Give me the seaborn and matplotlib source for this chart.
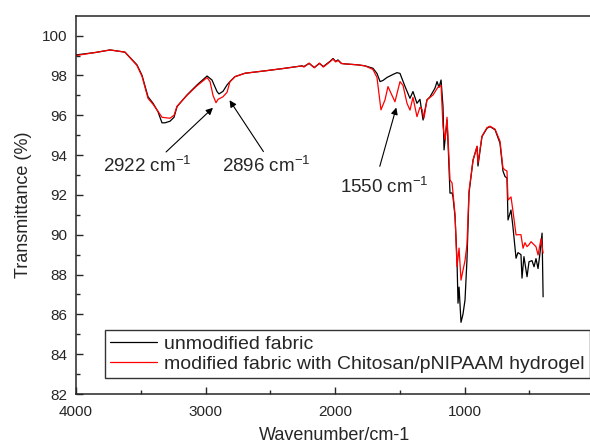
import pandas as pd
import seaborn as sns
import matplotlib.pyplot as plt

# FTIR spectra
wn_unmod = [4000, 3853, 3737, 3622, 3529, 3490, 3444, 3405, 3367, 3336, 3313, 3274, 3243, 3220,
            3143, 3066, 2988, 2950, 2911, 2896, 2865, 2834, 2811, 2772, 2695, 2541, 2386, 2255,
            2240, 2200, 2160, 2120, 2090, 2040, 2015, 1995, 1977, 1950, 1923, 1822, 1768, 1707,
            1676, 1652, 1629, 1598, 1552, 1521, 1498, 1459, 1421, 1398, 1367, 1344, 1320, 1290,
            1266, 1228, 1212, 1197, 1181, 1166, 1158, 1135, 1127, 1112, 1096, 1089, 1073, 1058,
            1050, 1042, 1027, 1012, 996, 981, 965, 934, 903, 896, 865, 826, 803, 764, 726, 703,
            687, 672, 664, 641, 626, 602, 587, 564, 556, 541, 517, 502, 479, 463, 448, 432, 417,
            401, 393]
t_unmod = [99.03, 99.15, 99.28, 99.17, 98.53, 98.0, 96.93, 96.6, 96.18, 95.62, 95.62, 95.7, 95.9, 96.43,
           97.02, 97.52, 97.97, 97.77, 97.19, 97.07, 97.2, 97.52, 97.69, 97.94, 98.11, 98.23, 98.36, 98.48,
           98.45, 98.6, 98.4, 98.6, 98.45, 98.7, 98.85, 98.7, 98.78, 98.6, 98.58, 98.53, 98.48, 98.36,
           98.1, 97.69, 97.75, 97.9, 98.05, 98.14, 98.1, 97.44, 96.85, 97.19, 96.6, 96.8, 95.76, 96.77,
           96.93, 97.36, 97.69, 97.4, 97.77, 96.43, 94.26, 95.76, 94.6, 92.09, 92.1, 91.91, 90.9, 88.73,
           86.56, 87.37, 85.6, 86.0, 86.72, 88.73, 92.1, 93.75, 94.42, 93.45, 94.93, 95.35, 95.43, 95.27, 94.6, 93.2,
           92.92, 92.85, 90.74, 91.24, 90.4, 88.82, 89.1, 89.0, 87.82, 88.9, 87.89, 88.64, 88.7, 88.39, 88.8, 88.3, 89.08,
           90.08, 86.88]

wn_mod = [4000, 3853, 3737, 3622, 3529, 3490, 3444, 3405, 3367, 3336, 3313, 3274, 3243, 3220,
          3143, 3066, 2988, 2965, 2942, 2919, 2903, 2888, 2865, 2834, 2811, 2772, 2695, 2541, 2386,
          2255, 2240, 2200, 2160, 2120, 2090, 2040, 2015, 1995, 1977, 1950, 1923, 1822, 1768, 1707,
          1676, 1645, 1614, 1591, 1560, 1537, 1498, 1475, 1444, 1421, 1398, 1367, 1344, 1328, 1313,
          1290, 1243, 1205, 1181, 1166, 1150, 1135, 1112, 1096, 1073, 1058, 1042, 1027, 1012, 996,
          981, 965, 934, 903, 896, 865, 826, 803, 764, 726, 703, 687, 672, 664, 641, 626, 602, 587,
          564, 548, 533, 517, 502, 486, 471, 448, 432, 409, 393]
t_mod = [99.0, 99.15, 99.28, 99.17, 98.5, 97.95, 96.85, 96.55, 96.2, 95.9, 95.88, 95.85, 96.0, 96.45,
         97.0, 97.48, 97.89, 97.69, 97.0, 96.63, 96.8, 96.85, 96.93, 97.15, 97.69, 97.94, 98.11, 98.23, 98.36,
         98.48, 98.42, 98.62, 98.38, 98.62, 98.42, 98.68, 98.82, 98.68, 98.75, 98.6, 98.58, 98.53, 98.48, 98.3,
         97.9, 96.27, 96.77, 97.44, 97.0, 96.68, 97.69, 97.5, 96.6, 96.26, 96.9, 95.93, 96.4, 96.3, 95.86,
         96.77, 97.02, 97.41, 97.5, 95.43, 94.76, 95.9, 92.75, 92.6, 91.0, 88.4, 89.33, 87.72, 88.2, 88.7,
         89.5, 92.2, 93.75, 94.45, 93.6, 94.95, 95.38, 95.45, 95.3, 94.7, 93.35, 93.25, 93.2, 91.74, 91.9, 91.2, 89.99, 90.0,
         90.0, 89.32, 89.6, 89.4, 89.5, 89.65, 89.55, 89.4, 88.98, 89.8, 89.08]

labels = ['unmodified fabric', 'modified fabric with Chitosan/pNIPAAM hydrogel']

df = pd.concat([
    pd.DataFrame({'wn': wn_unmod, 't': t_unmod, 'sample': labels[0]}),
    pd.DataFrame({'wn': wn_mod, 't': t_mod, 'sample': labels[1]}),
])

sns.set_style('ticks')
plt.rcParams['font.family'] = ['Liberation Sans', 'DejaVu Sans']
plt.rcParams['mathtext.default'] = 'regular'
plt.rcParams['xtick.direction'] = 'in'
plt.rcParams['ytick.direction'] = 'in'

fig = plt.figure(figsize=(5.9, 4.47), dpi=100)
ax = fig.add_axes([76 / 590, 53 / 447, 518 / 590, 378.3 / 447])

sns.lineplot(data=df, x='wn', y='t', hue='sample', palette=['black', 'red'],
             sort=False, estimator=None, linewidth=0.9, ax=ax)

ax.set_xlim(4000, 0)
ax.set_ylim(82, 101)
ax.set_xticks([4000, 3000, 2000, 1000])
ax.set_xticks([3500, 2500, 1500, 500], minor=True)
ax.set_yticks(range(82, 101, 2))
ax.set_yticks(range(83, 101, 2), minor=True)
ax.tick_params(which='major', length=5, width=1, labelsize=11, top=False, right=False)
ax.tick_params(axis='x', which='major', pad=8)
ax.tick_params(axis='y', which='major', pad=6)
ax.tick_params(which='minor', length=3, width=1, top=False, right=False)
for s in ['left', 'bottom', 'top']:
    ax.spines[s].set_linewidth(1.1)
ax.spines['right'].set_visible(False)

ax.set_xlabel('Wavenumber/cm-1', fontsize=13, labelpad=6)
ax.set_ylabel('Transmittance (%)', fontsize=13, labelpad=7)

arrow = dict(arrowstyle='-|>', color='black', lw=0.8, mutation_scale=10)
ax.annotate('', xy=(2927, 96.47), xytext=(3320, 94.06), arrowprops=arrow)
ax.annotate('', xy=(2826, 96.87), xytext=(2541, 94.06), arrowprops=arrow)
ax.annotate('', xy=(1521, 96.52), xytext=(1660, 93.3), arrowprops=arrow)
ax.text(3791, 93.45, '2922 cm$^{-1}$', fontsize=13.5, ha='left', va='center')
ax.text(2873, 93.45, '2896 cm$^{-1}$', fontsize=13.5, ha='left', va='center')
ax.text(1961, 92.4, '1550 cm$^{-1}$', fontsize=13.5, ha='left', va='center')

leg = ax.legend(loc='lower left', bbox_to_anchor=(0.056, 0.042), borderaxespad=0,
                fontsize=14, frameon=True, fancybox=False, edgecolor='black',
                handlelength=2.4, handletextpad=0.4, borderpad=0.25, labelspacing=0.15)
leg.get_frame().set_linewidth(1.0)
leg.set_title(None)

fig.savefig('out.png', dpi=100)
